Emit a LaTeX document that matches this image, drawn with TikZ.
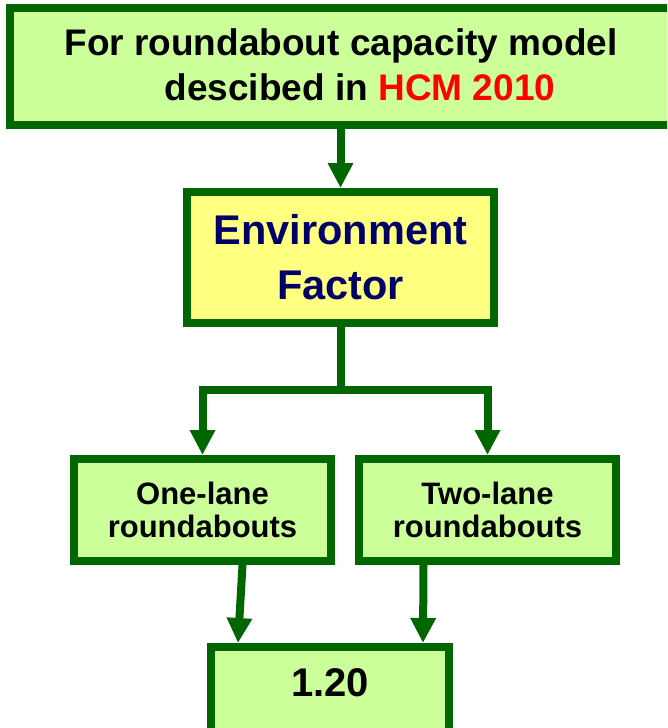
\documentclass[tikz,border=0pt]{standalone}
\usepackage{fontspec}
\setmainfont{Liberation Sans}
\usetikzlibrary{arrows.meta,calc}
\definecolor{bgreen}{HTML}{006600}
\definecolor{lgreen}{HTML}{CCFF99}
\definecolor{lyellow}{HTML}{FFFF80}
\definecolor{navy}{HTML}{000066}
\definecolor{hred}{HTML}{FF0000}
\begin{document}
\begin{tikzpicture}[x=1pt,y=-1pt,
  box/.style={draw=bgreen, line width=8pt, rectangle, inner sep=0pt, align=center},
  gbox/.style={box, fill=lgreen},
  arr/.style={draw=bgreen, line width=8pt, -{Triangle[width=24pt,length=25pt]}},
  plainline/.style={draw=bgreen, line width=8pt}]
\useasboundingbox (0,0) rectangle (667,728);
\clip (0,0) rectangle (667,728);
\node[gbox, minimum width=666pt, minimum height=117pt] (top) at (343,66.5) {};
\node[font=\bfseries\fontsize{37}{45}\selectfont, align=center, inner sep=0pt] (toptext) at (341,64.5)
  {For roundabout capacity model\\\hspace*{38pt}descibed in \textcolor{hred}{HCM 2010}};
\node[box, fill=lyellow, text=navy, minimum width=307pt, minimum height=131pt, font=\bfseries\fontsize{41.5}{55}\selectfont] (env) at (340.5,257.5)
  {Environment\\Factor};
\node[gbox, minimum width=257pt, minimum height=102pt, font=\bfseries\fontsize{31}{33}\selectfont] (one) at (202.5,510)
  {One-lane\\roundabouts};
\node[gbox, minimum width=257pt, minimum height=102pt, font=\bfseries\fontsize{31}{33}\selectfont] (two) at (487.5,510)
  {Two-lane\\roundabouts};
\node[gbox, minimum width=238pt, minimum height=98pt] (res) at (330,696) {};
\node[font=\bfseries\fontsize{40}{48}\selectfont, inner sep=0pt] (restext) at (330,683) {1.20};
\draw[arr] (top.south -| env.north) -- (env.north);
\coordinate (br) at ($(env.south)+(0,63)$);
\draw[plainline] (env.south) -- (br);
\draw[arr] (br) -| (one.north);
\draw[arr] (br) -| (two.north);
\draw[arr] ([xshift=40pt]one.south) -- ([xshift=31pt]res.north west);
\draw[arr] ([xshift=-64pt]two.south) -- ([xshift=-30pt]res.north east);
\end{tikzpicture}
\end{document}
